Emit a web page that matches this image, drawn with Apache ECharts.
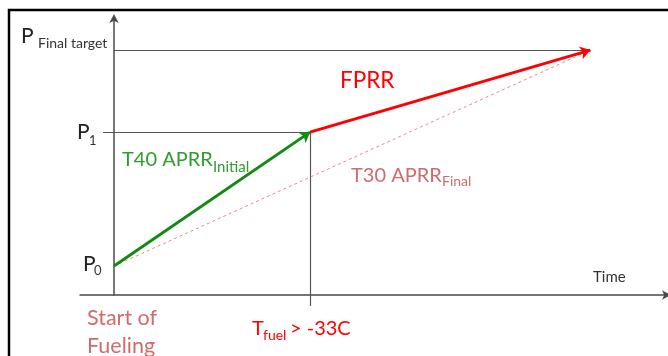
<!DOCTYPE html>
<html>
<head>
<meta charset="utf-8">
<script src="https://cdn.jsdelivr.net/npm/echarts@6/dist/echarts.min.js"></script>
<style>html,body{margin:0;padding:0;background:#fff}#c{width:668px;height:356px}</style>
</head>
<body>
<div id="c"></div>
<script>
// Schematic values (time in arbitrary units, pressure in arbitrary units)
const timePoints = [0, 1, 2.43];          // start of fueling, T_fuel > -33C, end
const pressures = [1.18, 6.65, 10];       // P0, P1, P final target
const axisRangeX = [-0.1735, 2.821];
const axisRangeY = [0, 11.31];
const guideStartX = -0.056;               // P1 guide starts slightly left of the axis
const tickDrop = -0.45;                   // vertical marker runs slightly below the time axis
const yLabels = ['P', 'Final target', 'P', '1', 'P', '0'];
const xLabels = ['Start of', 'Fueling', 'T', 'fuel', '> -33C'];
const seriesNames = ['T40 APRR', 'Initial', 'FPRR', 'T30 APRR', 'Final', 'Time'];

const FONT = 'Lato';
const chart = echarts.init(document.getElementById('c'), null, {renderer: 'canvas'});

const seg = (a, b) => ({coords: [a, b]});
const [t0, t1, t2] = timePoints;
const [p0, p1, pf] = pressures;

function txt(x, y, text, size, color) {
  return {type: 'text', x: x, y: y, z: 100,
    style: {text: text, fill: color, fontSize: size, fontFamily: FONT, verticalAlign: 'middle', align: 'left'}};
}

const option = {
  animation: false,
  grid: {left: 80, right: 1, top: 18, bottom: 61, containLabel: false},
  xAxis: {
    type: 'value', min: axisRangeX[0], max: axisRangeX[1],
    axisLine: {show: true, onZero: true, symbol: ['none', 'arrow'], symbolSize: [7, 9], symbolOffset: [0, 4],
      lineStyle: {color: '#4a4a4a', width: 1.5}},
    axisTick: {show: false}, axisLabel: {show: false}, splitLine: {show: false}
  },
  yAxis: {
    type: 'value', min: axisRangeY[0], max: axisRangeY[1],
    axisLine: {show: true, onZero: true, symbol: ['none', 'arrow'], symbolSize: [7, 9], symbolOffset: [0, 4],
      lineStyle: {color: '#4a4a4a', width: 1.5}},
    axisTick: {show: false}, axisLabel: {show: false}, splitLine: {show: false}
  },
  series: [
    {type: 'lines', coordinateSystem: 'cartesian2d', clip: false, z: 2,
      lineStyle: {color: '#555', width: 1.2, opacity: 1},
      data: [seg([t0, pf], [t2, pf]), seg([guideStartX, p1], [t1, p1]), seg([t1, p1], [t1, tickDrop])]},
    {type: 'lines', coordinateSystem: 'cartesian2d', clip: false, z: 3,
      lineStyle: {color: '#e38a8a', width: 1, type: [3, 3], opacity: 1},
      data: [seg([t0, p0], [t2, pf])]},
    {type: 'lines', coordinateSystem: 'cartesian2d', clip: false, z: 4,
      symbol: ['none', 'arrow'], symbolSize: 10,
      lineStyle: {color: '#138a13', width: 3, opacity: 1},
      data: [seg([t0, p0], [t1, p1])]},
    {type: 'lines', coordinateSystem: 'cartesian2d', clip: false, z: 5,
      symbol: ['none', 'arrow'], symbolSize: 10,
      lineStyle: {color: '#ff0000', width: 3, opacity: 1},
      data: [seg([t1, p1], [t2, pf])]}
  ],
  graphic: [
    {type: 'rect', shape: {x: 9, y: 10, width: 720, height: 420}, style: {fill: 'none', stroke: '#000', lineWidth: 2.5}, z: 0},
    txt(21, 36, yLabels[0], 21, '#222'),
    txt(38, 43, yLabels[1], 14, '#333'),
    txt(77, 132.5, yLabels[2], 21, '#222'),
    txt(89, 141, yLabels[3], 13, '#333'),
    txt(83, 264, yLabels[4], 21, '#222'),
    txt(94, 271, yLabels[5], 13, '#333'),
    txt(122, 160, seriesNames[0], 20, '#2e9e2e'),
    txt(213, 167.5, seriesNames[1], 15, '#2e9e2e'),
    txt(340, 81, seriesNames[2], 22.5, '#ff0000'),
    txt(351, 175.5, seriesNames[3], 20, '#d06b6b'),
    txt(442, 181.5, seriesNames[4], 14, '#d06b6b'),
    txt(593, 277.5, seriesNames[5], 15, '#333'),
    txt(87, 318, xLabels[0], 21.5, '#d06b6b'),
    txt(87, 346, xLabels[1], 21.5, '#d06b6b'),
    txt(252, 328.5, xLabels[2], 20, '#ff0000'),
    txt(263, 335, xLabels[3], 14, '#ff0000'),
    txt(290, 328.5, xLabels[4], 20, '#ff0000')
  ]
};
chart.setOption(option);
</script>
</body>
</html>
